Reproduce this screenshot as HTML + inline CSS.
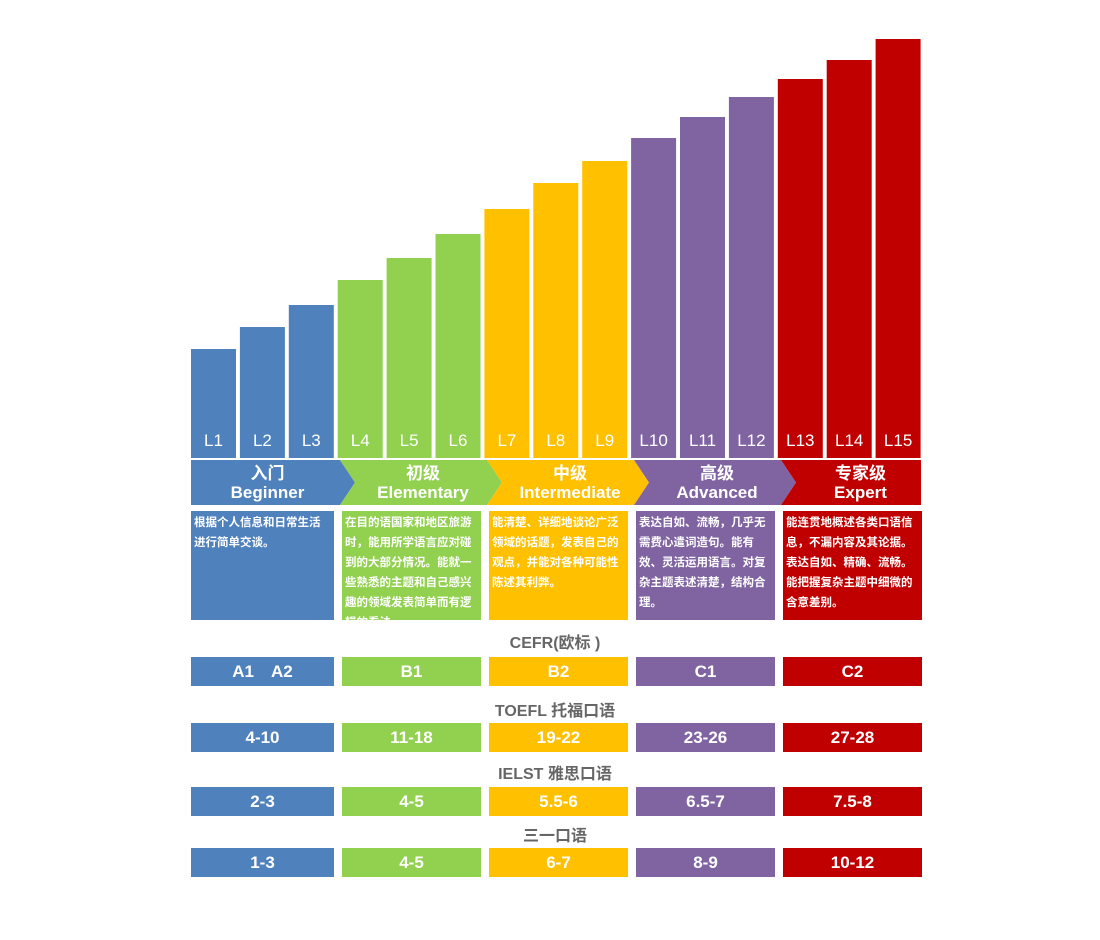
<!DOCTYPE html>
<html><head><meta charset="utf-8">
<style>
body{margin:0;background:#fff;width:1100px;height:940px;overflow:hidden;font-family:"Liberation Sans","Noto Sans CJK SC",sans-serif;}
#root{position:relative;width:1100px;height:940px;}
.abs{position:absolute;}
.desc{position:absolute;top:511px;height:109px;color:#fff;font-size:11.5px;font-weight:bold;line-height:20px;padding:2px 3px;box-sizing:border-box;overflow:hidden;}
.title{position:absolute;left:0;width:1110px;text-align:center;color:#666;font-size:16px;font-weight:bold;}
.cell{position:absolute;height:29px;line-height:29px;text-align:center;color:#fff;font-size:17px;font-weight:bold;}
</style></head>
<body>
<div id="root">
<svg id="svg" class="abs" style="left:0;top:0" width="1100" height="510"></svg>
</div>
<script>
const levels=["L1","L2","L3","L4","L5","L6","L7","L8","L9","L10","L11","L12","L13","L14","L15"];
const heights=[109,131,153,178,200,224,249,275,297,320,341,361,379,398,419];
const colors=["#4f81bd","#92d050","#ffc000","#8064a2","#c00000"];
const stageCN=["入门","初级","中级","高级","专家级"];
const stageEN=["Beginner","Elementary","Intermediate","Advanced","Expert"];
const descs=["根据个人信息和日常生活进行简单交谈。","在目的语国家和地区旅游时，能用所学语言应对碰到的大部分情况。能就一些熟悉的主题和自己感兴趣的领域发表简单而有逻辑的看法。","能清楚、详细地谈论广泛领域的话题，发表自己的观点，并能对各种可能性陈述其利弊。","表达自如、流畅，几乎无需费心遣词造句。能有效、灵活运用语言。对复杂主题表述清楚，结构合理。","能连贯地概述各类口语信息，不漏内容及其论据。表达自如、精确、流畅。能把握复杂主题中细微的含意差别。"];
const rowTitles=["CEFR(欧标 )","TOEFL 托福口语","IELST 雅思口语","三一口语"];
const rowValues=[["A1　A2","B1","B2","C1","C2"],["4-10","11-18","19-22","23-26","27-28"],["2-3","4-5","5.5-6","6.5-7","7.5-8"],["1-3","4-5","6-7","8-9","10-12"]];
const NS="http://www.w3.org/2000/svg";
const svg=document.getElementById('svg');
const root=document.getElementById('root');
const baseY=458, x0=191, pitch=48.9, bw=45;
function xOf(i){return x0+i*pitch;}
function yOf(v){return baseY-v;}
levels.forEach((l,i)=>{
  const r=document.createElementNS(NS,'rect');
  r.setAttribute('x',xOf(i));r.setAttribute('y',yOf(heights[i]));
  r.setAttribute('width',bw);r.setAttribute('height',heights[i]);
  r.setAttribute('fill',colors[Math.floor(i/3)]);
  
  
  svg.appendChild(r);
  const t=document.createElementNS(NS,'text');
  t.setAttribute('x',xOf(i)+bw/2);t.setAttribute('y',baseY-12);
  t.setAttribute('text-anchor','middle');t.setAttribute('fill','#fff');t.setAttribute('font-size','17');
  t.textContent=l;
  
  
  svg.appendChild(t);
});
const segStarts=[191,340,487,634,781], segEnds=[340,487,634,781,921];
const colL=[191,342,489,636,783], colR=[334,481,628,775,922];
stageCN.forEach((c,i)=>{
  const a=segStarts[i], b=segEnds[i], tip=i<4;
  let pts=`${a},460 ${b},460 ${tip?b+15:b},482.5 ${b},505 ${a},505`;
  if(i>0)pts+=` ${a+15},482.5`;
  const p=document.createElementNS(NS,'polygon');
  p.setAttribute('points',pts);p.setAttribute('fill',colors[i]);
  
  
  svg.appendChild(p);
  const cx=(a+(i>0?15:0)+b)/2+2;
  [[c,479],[stageEN[i],498]].forEach(([s,y])=>{
    const t=document.createElementNS(NS,'text');
    t.setAttribute('x',cx);t.setAttribute('y',y);t.setAttribute('text-anchor','middle');
    t.setAttribute('fill','#fff');t.setAttribute('font-size','17');t.setAttribute('font-weight','bold');
    t.textContent=s;
    
    
    svg.appendChild(t);
  });
  const d=document.createElement('div');
  d.className='desc';d.style.left=colL[i]+'px';d.style.width=(colR[i]-colL[i])+'px';d.style.background=colors[i];
  d.textContent=descs[i];
  
  
  root.appendChild(d);
});
const titleY=[629,697,760,822], rowY=[657,723,787,848];
rowTitles.forEach((t,r)=>{
  const h=document.createElement('div');
  h.className='title';h.style.top=titleY[r]+'px';h.textContent=t;
  
  
  root.appendChild(h);
  rowValues[r].forEach((v,i)=>{
    const c=document.createElement('div');
    c.className='cell';c.style.top=rowY[r]+'px';c.style.left=colL[i]+'px';
    c.style.width=(colR[i]-colL[i])+'px';c.style.background=colors[i];c.textContent=v;
    
    
    root.appendChild(c);
  });
});
</script>
</body></html>
